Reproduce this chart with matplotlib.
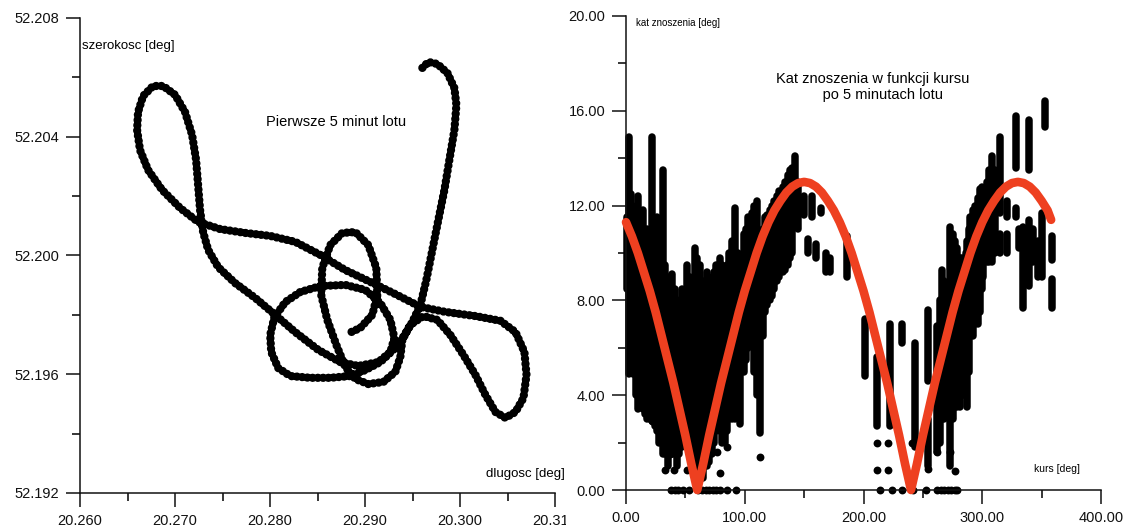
import matplotlib
matplotlib.use("Agg")
import matplotlib.pyplot as plt
from matplotlib.ticker import MultipleLocator, FormatStrFormatter
from matplotlib.transforms import Bbox, TransformedBbox

plt.rcParams['font.family'] = ['Liberation Sans', 'DejaVu Sans']

# ---------------- left panel: flight track (lon, lat) ----------------
track_lon = [20.29604, 20.29667, 20.29762, 20.29867, 20.29941, 20.29962, 20.29941, 20.29888,
             20.29836, 20.29772, 20.29709, 20.29646, 20.29583, 20.29498, 20.29403, 20.29298,
             20.29161, 20.29003, 20.28845, 20.28634, 20.28424, 20.28213, 20.28086, 20.28013,
             20.28002, 20.28044, 20.28160, 20.28318, 20.28529, 20.28792, 20.29003, 20.29161,
             20.29267, 20.29309, 20.29267, 20.29140, 20.28929, 20.28740, 20.28508, 20.28265,
             20.28055, 20.27844, 20.27633, 20.27454, 20.27349, 20.27296, 20.27264, 20.27243,
             20.27222, 20.27180, 20.27106, 20.27001, 20.26875, 20.26769, 20.26664, 20.26611,
             20.26601, 20.26632, 20.26717, 20.26864, 20.27054, 20.27243, 20.27475, 20.27739,
             20.28002, 20.28265, 20.28529, 20.28792, 20.29056, 20.29319, 20.29583, 20.29846,
             20.30162, 20.30426, 20.30584, 20.30678, 20.30700, 20.30668, 20.30584, 20.30478,
             20.30373, 20.30268, 20.30162, 20.30036, 20.29899, 20.29762, 20.29614, 20.29477,
             20.29393, 20.29372, 20.29319, 20.29193, 20.29035, 20.28898, 20.28792, 20.28698,
             20.28603, 20.28539, 20.28550, 20.28634, 20.28761, 20.28898, 20.29035, 20.29119,
             20.29130, 20.29077, 20.28950, 20.28813]
track_lat = [52.20632, 52.20652, 52.20645, 52.20615, 52.20564, 52.20507, 52.20423, 52.20322,
             52.20221, 52.20120, 52.20019, 52.19918, 52.19833, 52.19776, 52.19726, 52.19682,
             52.19641, 52.19614, 52.19594, 52.19588, 52.19588, 52.19594, 52.19621, 52.19675,
             52.19732, 52.19790, 52.19843, 52.19877, 52.19897, 52.19901, 52.19884, 52.19840,
             52.19783, 52.19722, 52.19675, 52.19641, 52.19628, 52.19641, 52.19682, 52.19742,
             52.19800, 52.19857, 52.19907, 52.19961, 52.20019, 52.20079, 52.20153, 52.20238,
             52.20322, 52.20406, 52.20483, 52.20541, 52.20571, 52.20571, 52.20537, 52.20483,
             52.20423, 52.20355, 52.20288, 52.20221, 52.20160, 52.20113, 52.20089, 52.20076,
             52.20066, 52.20046, 52.20002, 52.19951, 52.19911, 52.19870, 52.19827, 52.19810,
             52.19796, 52.19780, 52.19742, 52.19675, 52.19598, 52.19520, 52.19473, 52.19453,
             52.19473, 52.19530, 52.19598, 52.19665, 52.19732, 52.19783, 52.19796, 52.19766,
             52.19716, 52.19658, 52.19608, 52.19574, 52.19567, 52.19584, 52.19625, 52.19699,
             52.19783, 52.19867, 52.19958, 52.20035, 52.20076, 52.20079, 52.20035, 52.19958,
             52.19867, 52.19800, 52.19756, 52.19736]

# ---------------- right panel: drift angle vs course ----------------
# vertical stacks of measured points: course, lowest angle, highest angle
stack_x  = [1, 2.5, 4, 6, 8, 10, 12, 14, 16, 18, 20, 22, 24, 26, 28, 31, 33, 35, 37, 39,
            41, 43, 45, 47, 49, 51, 54, 56, 58, 60, 62, 65, 68, 70, 72, 74, 76, 79, 81, 83,
            85, 87, 89, 92, 94, 96, 99, 101, 103, 106, 108, 110, 113, 115, 117, 119, 121,
            123, 125, 127, 129, 132, 134, 136, 138, 140, 142, 145, 150, 153, 157, 160, 164,
            168, 172, 186,
            201, 211, 222, 232, 243, 254, 254, 262, 264, 266, 268, 270, 273, 275, 277, 279,
            281, 283, 284, 286, 287, 289, 290, 292, 294, 296, 298, 300, 301, 304, 306, 308,
            311, 315, 315, 321, 321, 328, 328, 331, 334, 339, 339, 343, 347, 350, 353, 359,
            359]
stack_lo = [8.5, 4.9, 5.5, 4.9, 4.0, 3.4, 3.5, 3.4, 3.2, 3.0, 3.0, 2.9, 2.7, 2.5, 2.0, 1.5,
            1.5, 1.0, 2.5, 1.5, 1.5, 1.0, 1.5, 1.8, 2.0, 2.0, 2.5, 1.2, 1.5, 0.8, 1.0, 0.5,
            1.0, 1.2, 1.5, 2.0, 2.5, 2.5, 2.0, 2.0, 2.5, 3.0, 3.0, 3.0, 3.5, 2.8, 5.0, 5.5,
            6.0, 6.3, 5.0, 4.0, 2.4, 6.5, 7.5, 7.8, 8.0, 8.2, 8.5, 8.8, 9.0, 9.2, 9.3, 9.5,
            9.8, 10.0, 12.0, 11.0, 11.6, 10.0, 11.5, 9.8, 11.7, 9.2, 9.2, 9.0,
            4.8, 2.7, 2.7, 6.2, 1.8, 4.6, 1.0, 1.6, 2.0, 3.0, 3.0, 3.5, 1.0, 3.0, 3.5, 3.5,
            3.5, 4.0, 4.0, 4.0, 3.5, 5.0, 6.9, 6.5, 7.0, 7.0, 7.5, 8.5, 9.0, 9.6, 9.6, 9.6,
            10.0, 11.7, 10.0, 10.0, 11.5, 13.6, 11.5, 10.2, 7.7, 13.5, 8.6, 9.6, 9.0, 9.0,
            15.3, 9.7, 7.7]
stack_hi = [11.5, 14.9, 12.5, 12.0, 11.0, 12.4, 10.5, 11.8, 10.5, 11.0, 10.0, 14.9, 10.8,
            11.5, 10.0, 13.5, 9.5, 9.0, 8.0, 9.1, 8.5, 8.0, 7.5, 8.5, 8.0, 9.5, 9.0, 8.5,
            10.2, 9.8, 9.5, 8.8, 9.2, 8.5, 9.0, 9.2, 9.5, 9.8, 9.5, 9.0, 9.5, 10.0, 10.5,
            11.9, 10.0, 8.0, 10.8, 11.0, 11.5, 11.7, 12.0, 12.2, 9.0, 11.0, 11.5, 11.6, 11.8,
            12.0, 12.2, 12.4, 12.6, 12.8, 13.0, 13.3, 13.5, 13.6, 14.1, 13.0, 12.4, 10.6, 12.4,
            10.4, 11.9, 10.0, 9.8, 10.7,
            7.2, 5.6, 7.0, 7.0, 6.2, 7.6, 3.0, 6.9, 8.0, 9.3, 8.8, 8.5, 11.1, 10.8, 10.5, 10.2,
            9.8, 9.8, 9.5, 10.0, 10.5, 11.0, 11.5, 11.8, 12.0, 12.3, 12.7, 12.8, 12.7, 13.0,
            13.5, 14.1, 13.5, 14.9, 10.8, 10.8, 12.2, 15.8, 11.9, 11.0, 11.1, 15.6, 11.4,
            11.0, 10.5, 11.7, 16.4, 10.7, 8.9]
# isolated points
dot_x = [38, 41, 44, 48, 53, 61, 64, 67, 70, 73, 76, 79, 85, 93,
         214, 224, 232, 242, 253, 262, 265, 268, 271, 274, 277, 279,
         22, 37, 37, 33, 40, 51, 77, 79, 85, 113, 103,
         211, 221, 241, 211, 221, 254, 262, 273, 277]
dot_y = [0, 0, 0, 0, 0, 0, 0, 0, 0, 0, 0, 0, 0, 0,
         0, 0, 0, 0, 0, 0, 0, 0, 0, 0, 0, 0,
         2.9, 2.0, 1.5, 0.85, 0.85, 0.85, 1.6, 0.7, 1.8, 1.4, 6.7,
         2.0, 2.0, 2.0, 0.85, 0.85, 0.9, 1.6, 1.6, 0.8]
# fitted curve, values every 5 degrees
curve_x = [0, 5, 10, 15, 20, 25, 30, 35, 40, 45, 50, 55, 60, 65, 70, 75, 80, 85, 90, 95,
           100, 105, 110, 115, 120, 125, 130, 135, 140, 145, 150, 155, 160, 165, 170, 175,
           180, 185, 190, 195, 200, 205, 210, 215, 220, 225, 230, 235, 240, 245, 250, 255,
           260, 265, 270, 275, 280, 285, 290, 295, 300, 305, 310, 315, 320, 325, 330, 335,
           340, 345, 350, 355, 358]
curve_y = [11.3, 10.7, 10.0, 9.2, 8.4, 7.5, 6.5, 5.5, 4.5, 3.4, 2.3, 1.1, 0.0, 1.1, 2.3,
           3.4, 4.5, 5.5, 6.5, 7.5, 8.4, 9.2, 10.0, 10.7, 11.3, 11.8, 12.2, 12.55, 12.8, 12.95,
           13.0, 12.95, 12.8, 12.55, 12.2, 11.8, 11.3, 10.7, 10.0, 9.2, 8.4, 7.5, 6.5, 5.5, 4.5,
           3.4, 2.3, 1.1, 0.0, 1.1, 2.3, 3.4, 4.5, 5.5, 6.5, 7.5, 8.4, 9.2, 10.0, 10.7, 11.3,
           11.8, 12.2, 12.55, 12.8, 12.95, 13.0, 12.95, 12.8, 12.55, 12.2, 11.8, 11.4]

W, H = 1123, 531
fig = plt.figure(figsize=(W / 100, H / 100), dpi=100)
fig.patch.set_facecolor('white')

ax1 = fig.add_axes([80 / W, 1 - 493 / H, (555 - 80) / W, (493 - 18) / H])
ax2 = fig.add_axes([626 / W, 1 - 490 / H, (1101 - 626) / W, (490 - 16) / H])


def style(ax):
    for s in ('top', 'right'):
        ax.spines[s].set_visible(False)
    for s in ('left', 'bottom'):
        ax.spines[s].set_linewidth(1.1)
        ax.spines[s].set_color('#111111')
    ax.tick_params(which='major', direction='out', length=10, width=1.1, pad=5,
                   labelsize=10.5, colors='#111111')
    ax.tick_params(which='minor', direction='out', length=6, width=1.1)
    ax.set_facecolor('white')


style(ax1)
style(ax2)

# left panel
ax1.plot(track_lon, track_lat, color='black', lw=6, linestyle=(0, (0.01, 0.62)),
         dash_capstyle='round', solid_capstyle='round')
ax1.set_xlim(20.26, 20.31)
ax1.set_ylim(52.192, 52.208)
ax1.xaxis.set_major_locator(MultipleLocator(0.01))
ax1.xaxis.set_minor_locator(MultipleLocator(0.005))
ax1.yaxis.set_major_locator(MultipleLocator(0.004))
ax1.yaxis.set_minor_locator(MultipleLocator(0.002))
ax1.xaxis.set_major_formatter(FormatStrFormatter('%.3f'))
ax1.yaxis.set_major_formatter(FormatStrFormatter('%.3f'))
ax1.text(0.005, 0.94, 'szerokosc [deg]', transform=ax1.transAxes, fontsize=9.5,
         ha='left', va='center')
ax1.text(0.54, 0.78, 'Pierwsze 5 minut lotu', transform=ax1.transAxes, fontsize=10.5,
         ha='center', va='center')
ax1.text(0.855, 0.04, 'dlugosc [deg]', transform=ax1.transAxes, fontsize=9.5,
         ha='left', va='center')

# clip the last x tick label like the reference
clip = TransformedBbox(Bbox([[0, 0], [566 / W, 1]]), fig.transFigure)
for lab in ax1.get_xticklabels():
    lab.set_clip_box(clip)
    lab.set_clip_on(True)

# right panel
ax2.vlines(stack_x, stack_lo, stack_hi, colors='black', linewidth=5.4, capstyle='round',
           clip_on=False, zorder=2)
ax2.scatter(dot_x, dot_y, s=32, color='black', clip_on=False, zorder=2, linewidths=0)
ax2.plot(curve_x, curve_y, color='#ee4020', lw=6.2, solid_capstyle='round',
         solid_joinstyle='round', zorder=3, clip_on=False)
ax2.set_xlim(0, 400)
ax2.set_ylim(0, 20)
ax2.xaxis.set_major_locator(MultipleLocator(100))
ax2.xaxis.set_minor_locator(MultipleLocator(50))
ax2.yaxis.set_major_locator(MultipleLocator(4))
ax2.yaxis.set_minor_locator(MultipleLocator(2))
ax2.xaxis.set_major_formatter(FormatStrFormatter('%.2f'))
ax2.yaxis.set_major_formatter(FormatStrFormatter('%.2f'))
ax2.text(0.02, 0.985, 'kat znoszenia [deg]', transform=ax2.transAxes, fontsize=7,
         ha='left', va='center')
ax2.text(0.52, 0.85, 'Kat znoszenia w funkcji kursu\n     po 5 minutach lotu',
         transform=ax2.transAxes, fontsize=10.5, ha='center', va='center', linespacing=1.25)
ax2.text(0.86, 0.045, 'kurs [deg]', transform=ax2.transAxes, fontsize=7.5,
         ha='left', va='center')

fig.savefig('out.png', dpi=100, facecolor='white')
